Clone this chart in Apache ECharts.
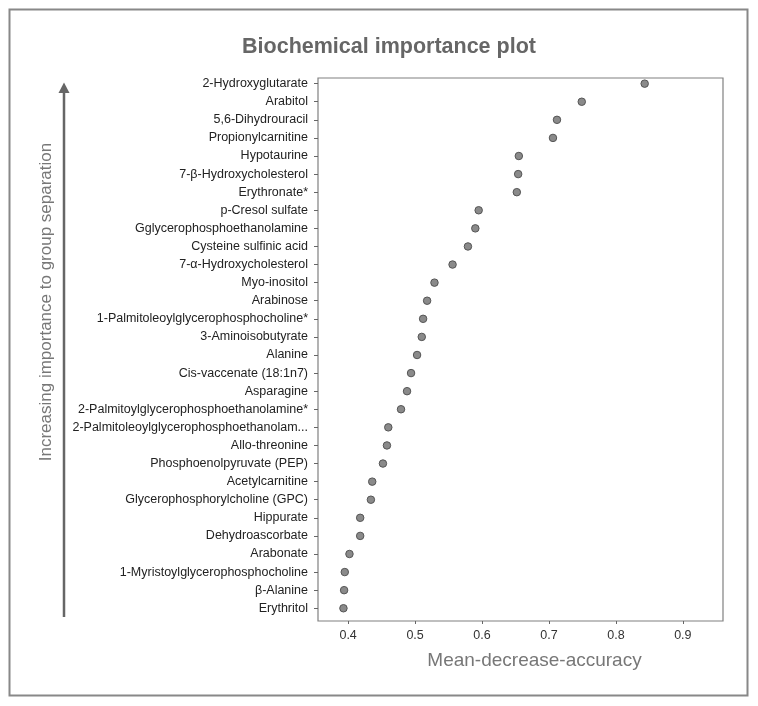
<!DOCTYPE html>
<html>
<head>
<meta charset="utf-8">
<script src="https://cdn.jsdelivr.net/npm/echarts@6/dist/echarts.min.js"></script>
<style>
html,body{margin:0;padding:0;background:#fff;}
#chart{width:758px;height:706px;}
</style>
</head>
<body>
<div id="chart"></div>
<script>
const categories = [
  "2-Hydroxyglutarate",
  "Arabitol",
  "5,6-Dihydrouracil",
  "Propionylcarnitine",
  "Hypotaurine",
  "7-\u03b2-Hydroxycholesterol",
  "Erythronate*",
  "p-Cresol sulfate",
  "Gglycerophosphoethanolamine",
  "Cysteine sulfinic acid",
  "7-\u03b1-Hydroxycholesterol",
  "Myo-inositol",
  "Arabinose",
  "1-Palmitoleoylglycerophosphocholine*",
  "3-Aminoisobutyrate",
  "Alanine",
  "Cis-vaccenate (18:1n7)",
  "Asparagine",
  "2-Palmitoylglycerophosphoethanolamine*",
  "2-Palmitoleoylglycerophosphoethanolam...",
  "Allo-threonine",
  "Phosphoenolpyruvate (PEP)",
  "Acetylcarnitine",
  "Glycerophosphorylcholine (GPC)",
  "Hippurate",
  "Dehydroascorbate",
  "Arabonate",
  "1-Myristoylglycerophosphocholine",
  "\u03b2-Alanine",
  "Erythritol"
];
const meanDecreaseAccuracy = [
  0.843, 0.749, 0.712, 0.706, 0.655, 0.654, 0.652, 0.595, 0.590, 0.579,
  0.556, 0.529, 0.518, 0.512, 0.510, 0.503, 0.494, 0.488, 0.479, 0.460,
  0.458, 0.452, 0.436, 0.434, 0.418, 0.418, 0.402, 0.395, 0.394, 0.393
];
const xTicks = [0.4, 0.5, 0.6, 0.7, 0.8, 0.9];
const chartTitle = "Biochemical importance plot";
const xAxisTitle = "Mean-decrease-accuracy";
const sideTitle = "Increasing importance to group separation";

const FONT = "Liberation Sans, Arial, Helvetica, sans-serif";
const chart = echarts.init(document.getElementById('chart'), null, {renderer: 'canvas'});

const option = {
  backgroundColor: '#fff',
  animation: false,
  title: {
    text: chartTitle,
    left: 384,
    textAlign: 'center',
    top: 31,
    textStyle: {fontFamily: FONT, fontSize: 21.5, fontWeight: 'bold', color: '#666'}
  },
  grid: [
    {left: 318, right: 35, top: 74.6, height: 542.7, show: false},
    {left: 318, right: 35, top: 78, height: 543, show: true, borderColor: '#808080', borderWidth: 1.2, backgroundColor: 'transparent'}
  ],
  xAxis: [
    {gridIndex: 0, type: 'value', min: 0.355, max: 0.96, show: false},
    {
      gridIndex: 1, type: 'value', min: 0.355, max: 0.96,
      axisLine: {show: false},
      splitLine: {show: false},
      axisTick: {show: true, length: 3, customValues: xTicks, lineStyle: {color: '#666', width: 1}},
      axisLabel: {
        customValues: xTicks, margin: 8,
        fontFamily: FONT, fontSize: 12.5, color: '#333',
        formatter: v => v.toFixed(1)
      },
      name: xAxisTitle,
      nameLocation: 'middle',
      nameGap: 30,
      nameTextStyle: {fontFamily: FONT, fontSize: 19, color: '#777', padding: [0, 0, 0, 28]}
    }
  ],
  yAxis: [
    {
      gridIndex: 0, type: 'category', data: categories, inverse: true,
      axisLine: {show: false},
      splitLine: {show: false},
      axisTick: {show: true, alignWithLabel: true, length: 4, lineStyle: {color: '#666', width: 1}},
      axisLabel: {fontFamily: FONT, fontSize: 12.5, color: '#222', margin: 10, interval: 0}
    },
    {gridIndex: 1, type: 'value', show: false}
  ],
  series: [{
    type: 'scatter',
    xAxisIndex: 0,
    yAxisIndex: 0,
    data: meanDecreaseAccuracy,
    symbol: 'circle',
    symbolSize: 7.5,
    itemStyle: {color: '#8a8a8a', borderColor: '#555', borderWidth: 1, opacity: 1}
  }],
  graphic: [
    {type: 'rect', shape: {x: 9.5, y: 9.5, width: 738, height: 686}, style: {fill: 'none', stroke: '#888', lineWidth: 2}, silent: true},
    {type: 'line', shape: {x1: 64, y1: 617, x2: 64, y2: 92}, style: {stroke: '#666', lineWidth: 2.5}, silent: true},
    {type: 'polygon', shape: {points: [[58.5, 93], [69.5, 93], [64, 82.5]]}, style: {fill: '#666'}, silent: true},
    {
      type: 'text', x: 46, y: 302, rotation: Math.PI / 2,
      style: {text: sideTitle, fontFamily: FONT, fontSize: 17, fill: '#777', align: 'center', verticalAlign: 'middle'},
      silent: true
    }
  ]
};
chart.setOption(option);
</script>
</body>
</html>
